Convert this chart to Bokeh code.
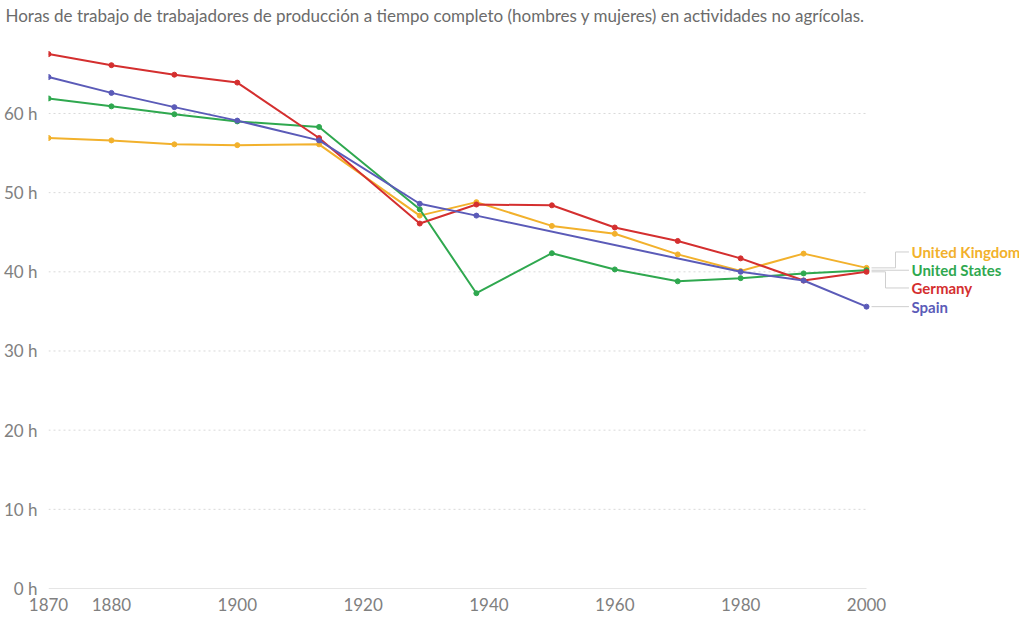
from bokeh.plotting import figure
from bokeh.models import Range1d, FixedTicker, Title
from bokeh.core.properties import value
from bokeh.embed import file_html
from bokeh.resources import INLINE

# ---- data ----
title_text = "Horas de trabajo de trabajadores de producción a tiempo completo (hombres y mujeres) en actividades no agrícolas."
years = [1870, 1880, 1890, 1900, 1913, 1929, 1938, 1950, 1960, 1970, 1980, 1990, 2000]
germany = [67.5, 66.1, 64.9, 63.9, 56.9, 46.1, 48.5, 48.4, 45.6, 43.9, 41.7, 38.9, 40.0]
uk = [56.9, 56.6, 56.1, 56.0, 56.1, 47.1, 48.8, 45.8, 44.8, 42.2, 40.1, 42.3, 40.5]
us = [61.9, 60.9, 59.9, 59.0, 58.3, 47.9, 37.3, 42.35, 40.3, 38.8, 39.2, 39.8, 40.2]
spain_years = [1870, 1880, 1890, 1900, 1913, 1929, 1938, 1980, 1990, 2000]
spain = [64.6, 62.6, 60.8, 59.1, 56.6, 48.6, 47.1, 40.0, 38.9, 35.6]

series_names = ["United Kingdom", "United States", "Germany", "Spain"]
series_x = [years, years, years, spain_years]
series_y = [uk, us, germany, spain]
series_colors = ["#f2b12c", "#2fa84f", "#d42f2f", "#5b5bb8"]

x_ticks = [1870, 1880, 1900, 1920, 1940, 1960, 1980, 2000]
y_ticks = [0, 10, 20, 30, 40, 50, 60]
y_tick_labels = ["0 h", "10 h", "20 h", "30 h", "40 h", "50 h", "60 h"]

# ---- layout ----
px_per_year = 818 / 130
px_per_hour = 79.17 / 10
frame_w = 971
frame_h = 560
x_end = 1870 + frame_w / px_per_year
y_end = frame_h / px_per_hour

p = figure(frame_width=frame_w, frame_height=frame_h,
           x_range=Range1d(1870, x_end), y_range=Range1d(0, y_end),
           output_backend="svg", toolbar_location=None,
           min_border_left=43, min_border_right=0, min_border_top=0, min_border_bottom=0)
p.outline_line_color = None
p.background_fill_color = "white"
p.border_fill_color = "white"
p.xgrid.visible = False
p.ygrid.visible = False

t = Title(text=title_text, text_font="Lato", text_font_size="17px",
          text_font_style="normal", text_color="#6b6b6b", align="left",
          offset=-43, standoff=5)
p.add_layout(t, "above")

# axes
p.yaxis.ticker = FixedTicker(ticks=y_ticks)
p.yaxis.major_label_overrides = {t_: l for t_, l in zip(y_ticks, y_tick_labels)}
p.xaxis.ticker = FixedTicker(ticks=x_ticks)
for ax in (p.xaxis[0], p.yaxis[0]):
    ax.axis_line_color = None
    ax.major_tick_line_color = None
    ax.minor_tick_line_color = None
    ax.major_label_text_font = "Lato"
    ax.major_label_text_font_size = "17px"
    ax.major_label_text_color = "#808080"
p.yaxis.major_label_standoff = 5
p.xaxis.major_label_standoff = 3

# grid lines (stop at 2000)
grid_vals = [v for v in y_ticks if v > 0]
p.segment(x0=[x_ticks[0]] * len(grid_vals), x1=[x_ticks[-1]] * len(grid_vals),
          y0=grid_vals, y1=grid_vals, line_color="#d9d9d9", line_width=1,
          line_dash="2 3")
p.segment(x0=[x_ticks[0]], x1=[x_ticks[-1]], y0=[0], y1=[0],
          line_color="#cccccc", line_width=1)

# series
for xs, ys, c in zip(series_x, series_y, series_colors):
    p.line(xs, ys, line_color=c, line_width=2)
    p.scatter(xs, ys, size=5, fill_color=c, line_color=c)

# end labels with collision avoidance
gap = 18 / px_per_hour
ends = [ys[-1] for ys in series_y]
order = sorted(range(len(ends)), key=lambda i: -ends[i])
label_y = [None] * len(ends)
groups = []
for i in order:
    if groups and ends[groups[-1][-1]] - ends[i] < gap:
        groups[-1].append(i)
    else:
        groups.append([i])
for g in groups:
    mean = sum(ends[i] for i in g) / len(g)
    top = mean + gap * (len(g) - 1) / 2
    for k, i in enumerate(g):
        label_y[i] = top - k * gap

lx = 2000 + 45 / px_per_year
for i in range(len(ends)):
    if abs(label_y[i] - ends[i]) < 0.3:
        xs_c = [2000 + 0.8, lx - 0.4]
        ys_c = [ends[i], ends[i]]
    else:
        elbow = 2000 + (29 if label_y[i] > ends[i] else 19) / px_per_year
        xs_c = [2000 + 0.8, elbow, elbow, lx - 0.4]
        ys_c = [ends[i], ends[i], label_y[i], label_y[i]]
    p.line(xs_c, ys_c, line_color="#cfcfcf", line_width=1)

p.text(x=[lx] * len(ends), y=label_y, text=series_names,
       text_color=series_colors, text_font=value("Lato"), text_font_size="15px",
       text_font_style="bold", text_baseline="middle", text_align="left")

open("out.html", "w").write(file_html(p, INLINE))
